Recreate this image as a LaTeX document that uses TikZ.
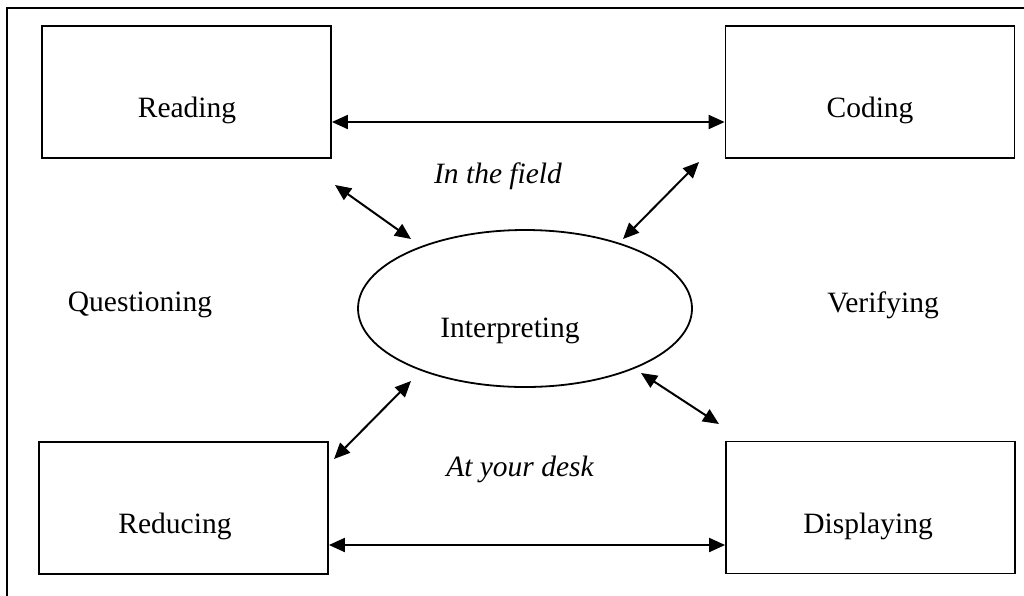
\documentclass[tikz,border=0pt]{standalone}
\usepackage{fontspec}
\setmainfont{Liberation Serif}
\usetikzlibrary{shapes.geometric,arrows.meta}
\begin{document}
\begin{tikzpicture}[x=1pt,y=-1pt,
  every node/.style={font=\fontsize{29.5}{34}\selectfont, inner sep=0pt},
  box/.style={draw, line width=1.8pt, minimum width=289pt, minimum height=132pt},
  link/.style={line width=2pt, {Triangle[length=16pt,width=14pt]}-{Triangle[length=16pt,width=14pt]}},
  lbl/.style={font=\fontsize{29.5}{34}\selectfont\itshape}]
\useasboundingbox (0,0) rectangle (1024,595);
\draw[line width=1.8pt] (1030,8) -- (7,8) -- (7,600);
\node[box] (reading) at (186.5,92) {};
\node at (187,110) {Reading};
\node[box] (coding) at (870,92) {};
\node at (870,110) {Coding};
\node[box] (reducing) at (183.5,508) {};
\node at (175,526) {Reducing};
\node[box] (displaying) at (870.5,507.5) {};
\node at (868,526) {Displaying};
\node[draw, ellipse, line width=1.8pt, minimum width=334pt, minimum height=157pt] (interp) at (525,308.5) {};
\node at (510,331) {Interpreting};
\node (quest) at (140,305) {Questioning};
\node (verif) at (883,305) {Verifying};
\node[lbl] (field) at (498,176) {In the field};
\node[lbl] (desk) at (520,469) {At your desk};
\draw[link] (reading.east |- 0,122) -- (coding.west |- 0,122);
\draw[link] (reducing.east |- 0,545) -- (displaying.west |- 0,545);
\coordinate (a1) at (335,185);
\coordinate (a2) at (411,239);
\coordinate (b1) at (699,162);
\coordinate (b2) at (623,239);
\coordinate (c1) at (334,459);
\coordinate (c2) at (411,381);
\coordinate (d1) at (641,373);
\coordinate (d2) at (719,424);
\draw[link] (a1) -- (a2);
\draw[link] (b1) -- (b2);
\draw[link] (c1) -- (c2);
\draw[link] (d1) -- (d2);
\end{tikzpicture}
\end{document}
